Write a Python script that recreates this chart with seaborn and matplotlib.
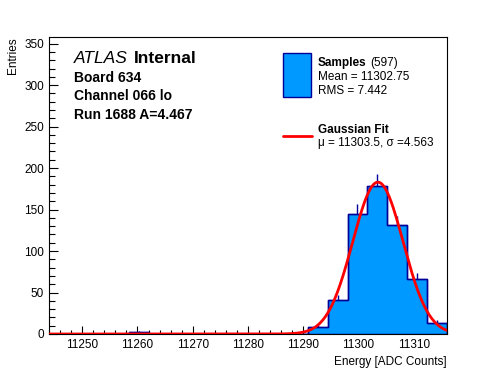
import numpy as np
import pandas as pd
import matplotlib
matplotlib.use("Agg")
import matplotlib.pyplot as plt
from matplotlib.patches import Rectangle
from matplotlib.lines import Line2D
from matplotlib.ticker import MultipleLocator
import seaborn as sns

# histogram: 20 bins over the energy range
x_min, x_max = 11244.0, 11316.0
n_bins = 20
counts = [0, 0, 0, 0, 2, 0, 0, 0, 0, 0,
          0, 0, 0, 8, 41, 145, 179, 131, 66, 13]

# gaussian fit parameters
fit_mu = 11303.5
fit_sigma = 4.563
fit_amp = 183.0

board_text = ["Board 634", "Channel 066 lo", "Run 1688 A=4.467"]
n_samples = 597
mean_val = 11302.75
rms_val = 7.442

sns.set_style("ticks")
plt.rcParams["font.family"] = ["Liberation Sans", "DejaVu Sans"]
plt.rcParams["text.color"] = "black"
plt.rcParams["axes.labelcolor"] = "black"

edges = np.linspace(x_min, x_max, n_bins + 1)
centers = 0.5 * (edges[:-1] + edges[1:])
df = pd.DataFrame({"energy": centers, "count": counts})

fig = plt.figure(figsize=(4.96, 3.72), dpi=100)
ax = fig.add_axes([49 / 496, 1 - 334 / 372, 398 / 496, 297 / 372])

# error bars first, so only the part above the bar shows
nz = df[df["count"] > 0]
ax.errorbar(nz["energy"], nz["count"], yerr=np.sqrt(nz["count"]),
            fmt="none", ecolor="#000099", elinewidth=1, zorder=1)

sns.histplot(data=df, x="energy", weights="count",
             binwidth=(x_max - x_min) / n_bins, binrange=(x_min, x_max),
             element="step", fill=True, color="#0099ff", alpha=1.0,
             edgecolor="#000099", linewidth=1.0, ax=ax, zorder=2)
ax.stairs(counts, edges, color="#000099", linewidth=1.0, zorder=3)

xs = np.linspace(x_min, x_max, 400)
fit = pd.DataFrame({"x": xs,
                    "y": fit_amp * np.exp(-0.5 * ((xs - fit_mu) / fit_sigma) ** 2)})
sns.lineplot(data=fit, x="x", y="y", color="#ff0000", linewidth=2, ax=ax, zorder=4)

ax.set_xlim(x_min, x_max)
ax.set_ylim(0, 358)
ax.xaxis.set_major_locator(MultipleLocator(10))
ax.xaxis.set_minor_locator(MultipleLocator(2))
ax.yaxis.set_major_locator(MultipleLocator(50))
ax.yaxis.set_minor_locator(MultipleLocator(10))
ax.tick_params(which="both", direction="in", width=0.8, labelsize=8.5,
               colors="black", labelcolor="black")
ax.tick_params(axis="y", which="major", length=6.5)
ax.tick_params(axis="y", which="minor", length=4)
ax.tick_params(axis="x", which="major", length=6)
ax.tick_params(axis="x", which="minor", length=3)
for sp in ax.spines.values():
    sp.set_visible(True)
    sp.set_linewidth(0.8)
    sp.set_color("black")

ax.set_xlabel("Energy [ADC Counts]", loc="right", fontsize=8.5)
ax.set_ylabel("Entries", loc="top", fontsize=8.5)

def fx(px):
    return px / 496

def fy(py):
    return 1 - py / 372

# ATLAS label
fig.text(fx(74), fy(63), "ATLAS", fontsize=12.5, style="italic", va="baseline")
fig.text(fx(134), fy(63), "Internal", fontsize=12.5, weight="bold", va="baseline")
for i, s in enumerate(board_text):
    fig.text(fx(74), fy(81.5 + 18.5 * i), s, fontsize=10, weight="bold", va="baseline")

# legend by hand (ROOT style)
fig.add_artist(Rectangle((fx(283), fy(97)), fx(311) - fx(283), fy(53) - fy(97),
                         facecolor="#0099ff", edgecolor="#000099", linewidth=1,
                         transform=fig.transFigure))
fig.text(fx(318), fy(66), "Samples", fontsize=8.5, weight="bold", va="baseline")
fig.text(fx(370), fy(66), f"({n_samples})", fontsize=8.5, va="baseline")
fig.text(fx(318), fy(80.5), f"Mean = {mean_val:.2f}", fontsize=8.5, va="baseline")
fig.text(fx(318), fy(93.5), f"RMS = {rms_val:.3f}", fontsize=8.5, va="baseline")
fig.add_artist(Line2D([fx(283), fx(312)], [fy(136), fy(136)], color="#ff0000",
                      linewidth=2, transform=fig.transFigure))
fig.text(fx(318), fy(133), "Gaussian Fit", fontsize=8.5, weight="bold", va="baseline")
fig.text(fx(318), fy(146), f"\u03bc = {fit_mu}, \u03c3 ={fit_sigma}", fontsize=8.5,
         va="baseline")

fig.savefig("out.png", dpi=100)
